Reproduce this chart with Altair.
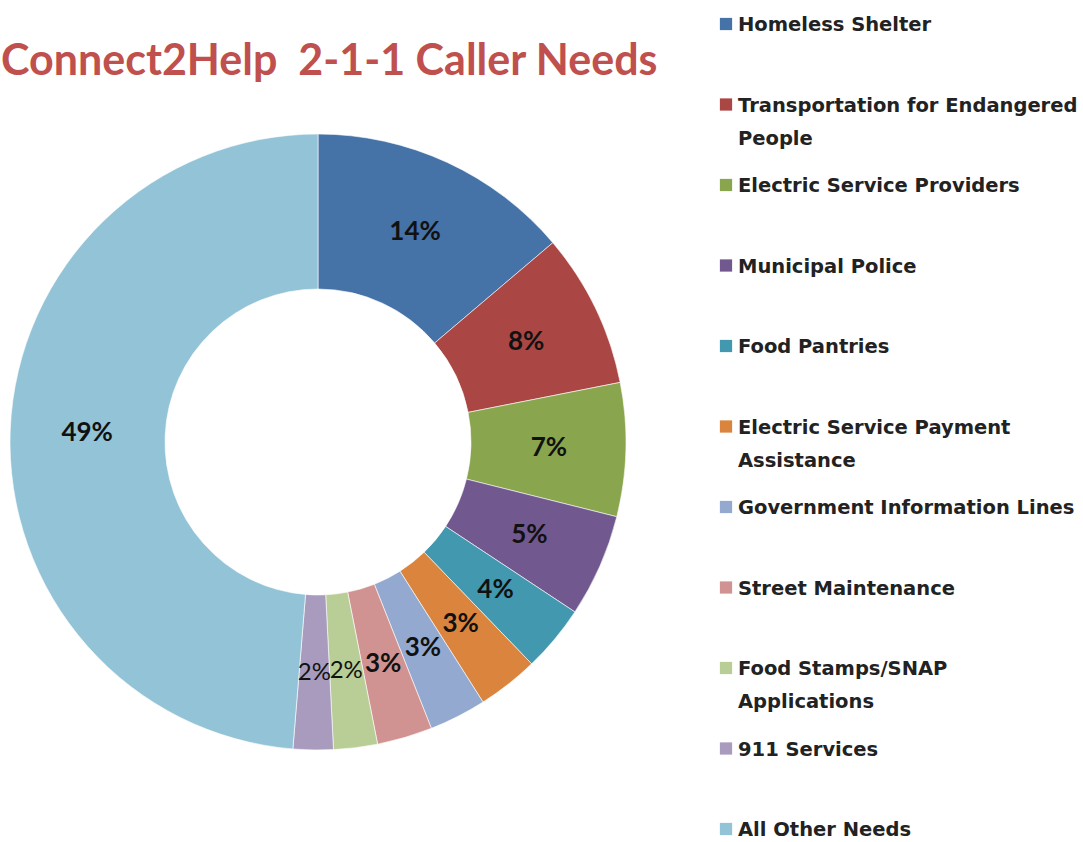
import altair as alt
import pandas as pd

names = ["Homeless Shelter", "Transportation for Endangered People", "Electric Service Providers",
         "Municipal Police", "Food Pantries", "Electric Service Payment Assistance",
         "Government Information Lines", "Street Maintenance", "Food Stamps/SNAP Applications",
         "911 Services", "All Other Needs"]
legend_text = ["Homeless Shelter", "Transportation for Endangered\nPeople", "Electric Service Providers",
               "Municipal Police", "Food Pantries", "Electric Service Payment\nAssistance",
               "Government Information Lines", "Street Maintenance", "Food Stamps/SNAP\nApplications",
               "911 Services", "All Other Needs"]
values = [13.8, 8.1, 7.0, 5.4, 3.5, 3.2, 3.0, 2.9, 2.3, 2.1, 48.7]
pct_labels = ["14%", "8%", "7%", "5%", "4%", "3%", "3%", "3%", "2%", "2%", "49%"]
bold_label = [True, True, True, True, True, True, True, True, False, False, True]
colors = ["#4572A7", "#AA4643", "#89A54E", "#71588F", "#4198AF", "#DB843D",
          "#93A9CF", "#D19392", "#B9CD96", "#A99BBD", "#93C3D6"]
title_text = "Connect2Help\u00a0 2-1-1 Caller Needs"

df = pd.DataFrame({
    "idx": list(range(len(names))),
    "name": names,
    "legend": legend_text,
    "value": values,
    "pct": pct_labels,
    "bold": bold_label,
})

color = alt.Color("name:N", scale=alt.Scale(domain=names, range=colors), legend=None)
CX, CY = 318, 442

base = alt.Chart(df)

arcs = base.mark_arc(outerRadius=308, innerRadius=153, stroke="white", strokeWidth=0.6).encode(
    theta=alt.Theta("value:Q", stack=True),
    order=alt.Order("idx:Q"),
    color=color,
    x=alt.value(CX), y=alt.value(CY),
)

lab_bold = base.mark_text(
    radius=231, font="Lato", fontSize=26, fontWeight="bold", color="#111111"
).encode(
    theta=alt.Theta("value:Q", stack=True),
    order=alt.Order("idx:Q"),
    text=alt.condition("datum.bold", alt.Text("pct:N"), alt.value("")),
    x=alt.value(CX), y=alt.value(CY),
)

lab_norm = base.mark_text(
    radius=231, font="Lato", fontSize=24, fontWeight="normal", color="#111111"
).encode(
    theta=alt.Theta("value:Q", stack=True),
    order=alt.Order("idx:Q"),
    text=alt.condition("datum.bold", alt.value(""), alt.Text("pct:N")),
    x=alt.value(CX), y=alt.value(CY),
)

ypos = alt.Y("idx:Q", scale=alt.Scale(domain=[0, 10], range=[24, 829]), axis=None)

leg_sq = base.mark_square(size=150, opacity=1).encode(
    x=alt.value(726), y=ypos, color=color,
)

leg_txt = base.mark_text(
    align="left", baseline="alphabetic", dy=7, lineBreak="\n", lineHeight=33,
    font="DejaVu Sans", fontSize=19.5, fontWeight="bold", color="#222222"
).encode(
    x=alt.value(738), y=ypos, text="legend:N",
)

title = alt.Chart(pd.DataFrame({"t": [title_text]})).mark_text(
    align="left", baseline="alphabetic", font="Lato", fontSize=43, fontWeight="bold", color="#C0504D"
).encode(x=alt.value(1), y=alt.value(75), text="t:N")

chart = alt.layer(arcs, lab_bold, lab_norm, leg_sq, leg_txt, title).properties(
    width=1083, height=842, padding=0, autosize=alt.AutoSizeParams(type="none"),
    background="white"
).configure_view(stroke=None)

chart.save("out.html", embed_options={"renderer": "svg", "actions": False})
